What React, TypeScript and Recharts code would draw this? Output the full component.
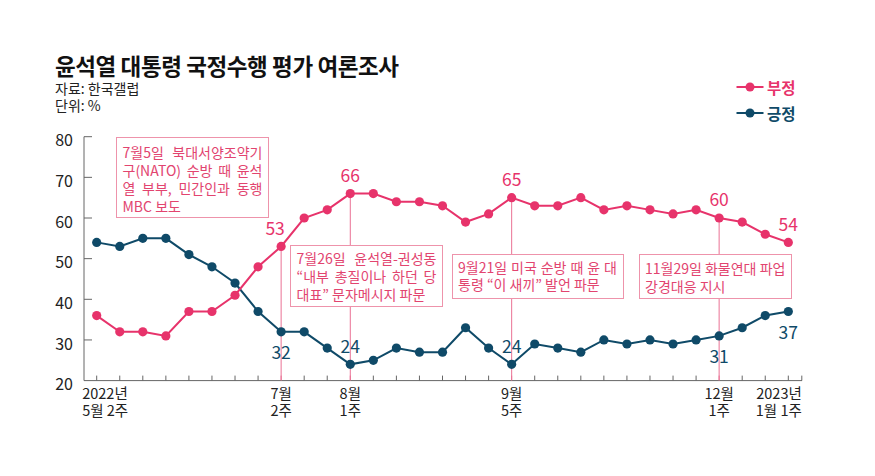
import React from 'react';
import { LineChart, Line, XAxis, YAxis, ReferenceLine, LabelList } from 'recharts';

const weeks = [
  '5월 2주', '5월 3주', '5월 4주', '6월 2주', '6월 3주', '6월 4주', '6월 5주', '7월 1주',
  '7월 2주', '7월 3주', '7월 4주', '8월 1주', '8월 2주', '8월 3주', '8월 4주', '8월 5주',
  '9월 1주', '9월 3주', '9월 5주', '10월 1주', '10월 2주', '10월 3주', '10월 4주', '11월 1주',
  '11월 2주', '11월 3주', '11월 4주', '12월 1주', '12월 2주', '12월 3주', '1월 1주',
];
const negative = [36, 32, 32, 31, 37, 37, 41, 48, 53, 60, 62, 66, 66, 64, 64, 63, 59, 61, 65, 63, 63, 65, 62, 63, 62, 61, 62, 60, 59, 56, 54];
const positive = [54, 53, 55, 55, 51, 48, 44, 37, 32, 32, 28, 24, 25, 28, 27, 27, 33, 28, 24, 29, 28, 27, 30, 29, 30, 29, 30, 31, 33, 36, 37];
const yTicks = [20, 30, 40, 50, 60, 70, 80];
const tickLabels: Record<string, [string, string]> = {
  '5월 2주': ['2022년', '5월 2주'],
  '7월 2주': ['7월', '2주'],
  '8월 1주': ['8월', '1주'],
  '9월 5주': ['9월', '5주'],
  '12월 1주': ['12월', '1주'],
  '1월 1주': ['2023년', '1월 1주'],
};
const eventWeeks = ['7월 2주', '8월 1주', '9월 5주', '12월 1주'];
const negLabels: Record<string, 'above' | 'below'> = {
  '7월 2주': 'above', '8월 1주': 'above', '9월 5주': 'above', '12월 1주': 'above', '1월 1주': 'above',
};
const posLabels: Record<string, 'above' | 'below'> = {
  '7월 2주': 'below', '8월 1주': 'above', '9월 5주': 'above', '12월 1주': 'below', '1월 1주': 'below',
};

const title = '윤석열 대통령 국정수행 평가 여론조사';
const source = '자료: 한국갤럽';
const unit = '단위: %';
const negName = '부정';
const posName = '긍정';

const notes = [
  { lines: ['7월5일 북대서양조약기', '구(NATO) 순방 때 윤석', '열 부부, 민간인과 동행', 'MBC 보도'], box: { left: 116, top: 136.5, width: 153, height: 81 }, pt: 5.5, lh: 18, justify: 3 },
  { lines: ['7월26일 윤석열-권성동', '“내부 총질이나 하던 당', '대표” 문자메시지 파문'], box: { left: 290, top: 245, width: 153, height: 62 }, pt: 3, lh: 18, justify: 2 },
  { lines: ['9월21일 미국 순방 때 윤 대', '통령 “이 새끼” 발언 파문'], box: { left: 451.5, top: 254, width: 172, height: 44.5 }, pt: 3.5, lh: 17.5, justify: 1 },
  { lines: ['11월29일 화물연대 파업', '강경대응 지시'], box: { left: 638.5, top: 254, width: 153, height: 44.5 }, pt: 3.5, lh: 18.5, justify: 0 },
];

const FONT = "'Noto Sans CJK KR', 'Noto Sans', sans-serif";
const PINK = '#e7336b';
const PINK_TEXT = '#e2446f';
const PINK_BOX = '#ee93ab';
const PINK_RULE = '#ea7194';
const BLUE = '#0f4a68';
const AXIS = '#666';

const data = weeks.map((w, i) => ({ week: w, neg: negative[i], pos: positive[i] }));

const XTick = (props: any) => {
  const { x, y, payload } = props;
  const idx = props.index ?? payload.index;
  const lab = tickLabels[payload.value];
  let anchor: any = 'middle';
  let dx = 0;
  if (idx === 0) { anchor = 'start'; dx = -14.5; }
  if (idx === weeks.length - 1) { anchor = 'end'; dx = 13.5; }
  const hl = eventWeeks.includes(payload.value);
  return (
    <g>
      <line x1={x} x2={x} y1={y} y2={y - 5} stroke={hl ? PINK_RULE : AXIS} strokeWidth={1} />
      {idx === weeks.length - 1 && <line x1={x + 13.5} x2={x + 13.5} y1={y} y2={y - 5} stroke={AXIS} />}
      {lab && (
        <text x={x + dx} y={y + 18.5} textAnchor={anchor} fontSize={14.5} fill="#222" fontFamily={FONT}>{lab[0]}</text>
      )}
      {lab && (
        <text x={x + dx} y={y + 35} textAnchor={anchor} fontSize={14.5} fill="#222" fontFamily={FONT}>{lab[1]}</text>
      )}
    </g>
  );
};

const YTick = (props: any) => {
  const { x, y, payload } = props;
  return (
    <g>
      {payload.value !== 20 && <line x1={x} x2={x + 8} y1={y} y2={y} stroke={AXIS} />}
      <text x={x - 11} y={y + 4} dy="0.36em" textAnchor="end" fontSize={16} fill="#222" fontFamily={FONT}>
        {payload.value}
      </text>
    </g>
  );
};

const makeLabel = (map: Record<string, 'above' | 'below'>, color: string) => (props: any) => {
  const { x, y, value, index } = props;
  const w = weeks[index];
  const pos = map[w];
  if (!pos) return null;
  const dx = w === '7월 2주' && pos === 'above' ? -6 : 0;
  const cy = pos === 'above' ? y - 18 : y + 21;
  return (
    <text x={x + dx} y={cy} dy="0.36em" textAnchor="middle" fontSize={17.5} fill={color} fontFamily={FONT}>
      {value}
    </text>
  );
};

export default function App() {
  return (
    <div style={{ position: 'absolute', left: 0, top: 0, width: 875, height: 476, background: '#fff', fontFamily: FONT }}>
      <LineChart width={875} height={476} data={data} margin={{ top: 136.7, right: 73, bottom: 35.4, left: 0 }}>
        <XAxis
          dataKey="week"
          interval={0}
          height={60}
          padding={{ left: 12.7, right: 13.7 }}
          axisLine={{ stroke: AXIS }}
          tickLine={false}
          tickSize={0}
          tickMargin={0}
          tick={(p: any) => <XTick {...p} />}
        />
        <YAxis
          domain={[20, 80]}
          ticks={yTicks}
          width={84}
          axisLine={{ stroke: AXIS }}
          tickLine={false}
          tickSize={0}
          tickMargin={0}
          tick={(p: any) => <YTick {...p} />}
        />
        {eventWeeks.map((w) => (
          <ReferenceLine
            key={w}
            segment={[{ x: w, y: negative[weeks.indexOf(w)] }, { x: w, y: 20 }]}
            stroke={PINK_RULE}
            strokeWidth={1}
          />
        ))}
        <Line
          dataKey="pos"
          name={posName}
          stroke={BLUE}
          strokeWidth={2}
          dot={{ r: 4.6, fill: BLUE, stroke: BLUE, strokeWidth: 0 }}
          isAnimationActive={false}
        >
          <LabelList dataKey="pos" content={makeLabel(posLabels, BLUE)} />
        </Line>
        <Line
          dataKey="neg"
          name={negName}
          stroke={PINK}
          strokeWidth={2}
          dot={{ r: 4.6, fill: PINK, stroke: PINK, strokeWidth: 0 }}
          isAnimationActive={false}
        >
          <LabelList dataKey="neg" content={makeLabel(negLabels, PINK)} />
        </Line>
      </LineChart>

      <div style={{ position: 'absolute', left: 55, top: 54, fontSize: 22.5, lineHeight: '23px', fontWeight: 700, color: '#111', letterSpacing: -0.4, whiteSpace: 'nowrap' }}>
        {title}
      </div>
      <div style={{ position: 'absolute', left: 55, top: 80, fontSize: 14, lineHeight: '17px', color: '#222', whiteSpace: 'nowrap' }}>
        <div>{source}</div>
        <div>{unit}</div>
      </div>

      {[{ name: negName, color: PINK, top: 87 }, { name: posName, color: BLUE, top: 112.5 }].map((l) => (
        <div key={l.name} style={{ position: 'absolute', left: 736, top: l.top - 10, height: 20, display: 'flex', alignItems: 'center' }}>
          <svg width={28} height={20}>
            <line x1={0.5} x2={27.5} y1={10} y2={10} stroke={l.color} strokeWidth={2} />
            <circle cx={14} cy={10} r={4.5} fill={l.color} />
          </svg>
          <span style={{ marginLeft: 3, fontSize: 15.5, fontWeight: 700, color: l.color, lineHeight: '20px' }}>{l.name}</span>
        </div>
      ))}

      {notes.map((n, k) => (
        <div
          key={k}
          style={{
            position: 'absolute',
            left: n.box.left,
            top: n.box.top,
            width: n.box.width,
            height: n.box.height,
            boxSizing: 'border-box',
            border: `1px solid ${PINK_BOX}`,
            background: '#fff',
            padding: `${n.pt}px 5.5px 0 5.5px`,
            fontSize: 14,
            lineHeight: `${n.lh}px`,
            color: PINK_TEXT,
            letterSpacing: 0,
          }}
        >
          {n.lines.map((t, j) => (
            <div key={j} style={{ whiteSpace: 'nowrap', textAlign: 'left', textAlignLast: j < n.justify ? 'justify' : 'left' } as any}>
              {t}
            </div>
          ))}
        </div>
      ))}
    </div>
  );
}
